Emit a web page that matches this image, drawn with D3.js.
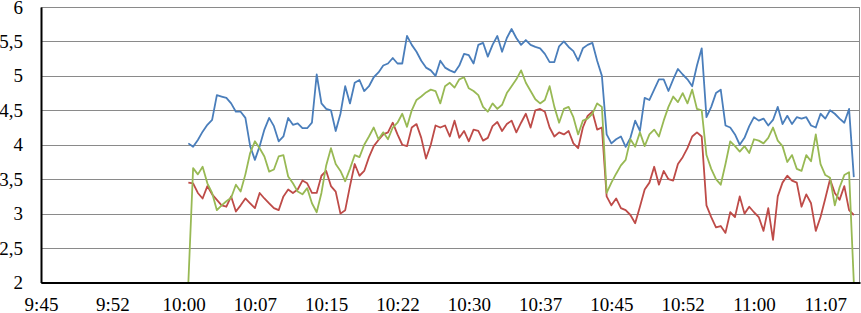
<!DOCTYPE html>
<html>
<head>
<meta charset="utf-8">
<script src="https://cdn.jsdelivr.net/npm/d3@7"></script>
<style>
  body { margin: 0; background: #fff; }
  .axis text { font-family: "Liberation Serif", serif; font-size: 19px; fill: #000; }
</style>
</head>
<body>
<div id="chart"></div>
<script>
// Constants for the SVG
var width = 861,
  height = 313,
  margin = { top: 7, right: 1, bottom: 30.5, left: 41 };

// Data: one reading every 30 seconds, starting 10:00:30
var startTime = "10:00:30";
var stepSeconds = 30;

var blueValues = [
  4.02, 3.97, 4.07, 4.19, 4.29, 4.36, 4.72, 4.70, 4.68, 4.60,
  4.48, 4.48, 4.39, 3.98, 3.78, 3.98, 4.22, 4.39, 4.27, 4.05,
  4.12, 4.39, 4.29, 4.31, 4.24, 4.24, 4.32, 5.02, 4.60, 4.52,
  4.50, 4.20, 4.45, 4.85, 4.60, 4.90, 4.94, 4.78, 4.85, 4.98,
  5.05, 5.15, 5.18, 5.26, 5.18, 5.18, 5.58, 5.45, 5.35, 5.22,
  5.12, 5.08, 5.00, 5.22, 5.12, 5.08, 5.05, 5.15, 5.32, 5.30,
  5.18, 5.45, 5.48, 5.28, 5.45, 5.58, 5.35, 5.55, 5.68, 5.55,
  5.45, 5.52, 5.45, 5.42, 5.40, 5.32, 5.20, 5.20, 5.43, 5.50,
  5.42, 5.36, 5.22, 5.40, 5.45, 5.48, 5.22, 5.00, 4.15, 4.02,
  4.08, 4.12, 3.97, 4.10, 4.35, 4.20, 4.68, 4.65, 4.80, 4.95,
  4.95, 4.78, 4.95, 5.10, 5.02, 4.95, 4.85, 5.15, 5.40, 4.40,
  4.55, 4.75, 4.80, 4.28, 4.25, 4.15, 4.00, 4.10, 4.27, 4.40,
  4.35, 4.38, 4.28, 4.36, 4.55, 4.30, 4.42, 4.30, 4.40, 4.38,
  4.40, 4.28, 4.25, 4.45, 4.38, 4.50, 4.45, 4.38, 4.32, 4.52,
  3.53
];

var redValues = [
  3.45, 3.44, 3.30, 3.22, 3.40, 3.28, 3.20, 3.12, 3.10, 3.25,
  3.03, 3.12, 3.22, 3.15, 3.08, 3.30, 3.22, 3.15, 3.08, 3.05,
  3.25, 3.35, 3.30, 3.35, 3.48, 3.44, 3.30, 3.30, 3.55, 3.62,
  3.40, 3.32, 3.00, 3.05, 3.40, 3.72, 3.55, 3.62, 3.82, 3.98,
  4.07, 4.15, 4.18, 4.32, 4.15, 4.00, 3.98, 4.25, 4.30, 4.10,
  3.80, 4.00, 4.28, 4.25, 4.28, 4.12, 4.35, 4.10, 4.20, 4.05,
  4.22, 4.20, 4.06, 4.10, 4.27, 4.33, 4.20, 4.30, 4.35, 4.18,
  4.32, 4.45, 4.25, 4.50, 4.52, 4.48, 4.25, 4.12, 4.18, 4.15,
  4.20, 4.02, 3.95, 4.25, 4.42, 4.48, 4.22, 4.25, 3.25, 3.12,
  3.22, 3.08, 3.05, 2.98, 2.86, 3.10, 3.35, 3.45, 3.68, 3.42,
  3.62, 3.50, 3.48, 3.72, 3.82, 3.95, 4.12, 4.18, 4.12, 3.12,
  2.95, 2.80, 2.82, 2.72, 3.02, 2.95, 3.25, 3.00, 3.10, 3.02,
  2.95, 2.75, 3.08, 2.62, 3.25, 3.45, 3.55, 3.48, 3.45, 3.10,
  3.28, 3.15, 2.75, 2.95, 3.22, 3.50, 3.30, 3.20, 3.40, 3.05,
  2.98
];

var greenValues = [
  2.00, 3.66, 3.57, 3.68, 3.44, 3.30, 3.05, 3.12, 3.18, 3.23,
  3.42, 3.32, 3.57, 3.88, 4.05, 3.95, 3.83, 3.61, 3.64, 3.83,
  3.85, 3.54, 3.44, 3.32, 3.28, 3.37, 3.15, 3.02, 3.30, 3.70,
  3.95, 3.72, 3.62, 3.47, 3.65, 3.85, 3.82, 4.00, 4.12, 4.25,
  4.08, 4.18, 4.08, 4.25, 4.32, 4.45, 4.26, 4.50, 4.65, 4.70,
  4.76, 4.80, 4.78, 4.60, 4.85, 4.90, 4.83, 4.95, 4.98, 4.82,
  4.78, 4.72, 4.55, 4.48, 4.60, 4.52, 4.58, 4.75, 4.85, 4.95,
  5.08, 4.90, 4.78, 4.66, 4.60, 4.65, 4.85, 4.55, 4.32, 4.52,
  4.55, 4.40, 4.15, 4.35, 4.38, 4.45, 4.60, 4.55, 3.30, 3.45,
  3.58, 3.70, 3.78, 4.08, 3.97, 4.18, 3.98, 4.15, 4.22, 4.12,
  4.35, 4.55, 4.70, 4.62, 4.75, 4.60, 4.80, 4.52, 4.50, 3.85,
  3.65, 3.50, 3.42, 3.72, 4.05, 3.98, 3.90, 3.98, 3.88, 4.08,
  4.06, 4.02, 4.10, 4.25, 4.06, 3.98, 3.75, 3.85, 3.65, 3.62,
  3.85, 3.76, 4.15, 3.72, 3.56, 3.52, 3.12, 3.38, 3.56, 3.60,
  2.00
];

// Axis ticks
var xStart = "9:45:00",
  xEnd = "11:11:09";
var xTickTimes = [
  "9:45:00", "9:52:30", "10:00:00", "10:07:30", "10:15:00", "10:22:30",
  "10:30:00", "10:37:30", "10:45:00", "10:52:30", "11:00:00", "11:07:30"
];
var yTicks = [2, 2.5, 3, 3.5, 4, 4.5, 5, 5.5, 6];

var parseTime = d3.timeParse("%H:%M:%S");
var fmtTime = d3.timeFormat("%-H:%M");
var fmtNum = d3.formatLocale({ decimal: ",", thousands: ".", grouping: [3], currency: ["", ""] }).format("~g");

var t0 = parseTime(startTime);
function toSeries(values) {
  return values.map(function (v, i) {
    return { t: new Date(t0.getTime() + i * stepSeconds * 1000), v: v };
  });
}

var series = [
  { name: "blue", color: "#4A7EBB", data: toSeries(blueValues) },
  { name: "red", color: "#BE4B48", data: toSeries(redValues) },
  { name: "green", color: "#98B954", data: toSeries(greenValues) }
];

var innerW = width - margin.left - margin.right,
  innerH = height - margin.top - margin.bottom;

var x = d3.scaleTime()
  .domain([parseTime(xStart), parseTime(xEnd)])
  .range([0, innerW]);

var y = d3.scaleLinear().domain([2, 6]).range([innerH, 0]);

var svg = d3.select("#chart")
  .append("svg")
  .attr("width", width)
  .attr("height", height);

var g = svg.append("g")
  .attr("transform", "translate(" + margin.left + "," + margin.top + ")");

// Gridlines
g.append("g")
  .selectAll("line")
  .data(yTicks)
  .enter()
  .append("line")
  .attr("x1", 0)
  .attr("x2", innerW)
  .attr("y1", function (d) { return Math.round(y(d)) + 0.5; })
  .attr("y2", function (d) { return Math.round(y(d)) + 0.5; })
  .attr("stroke", "#8a8a8a")
  .attr("stroke-width", 1);

// Right border of the plot
g.append("line")
  .attr("x1", innerW - 0.5).attr("x2", innerW - 0.5)
  .attr("y1", 0).attr("y2", innerH)
  .attr("stroke", "#8a8a8a");

g.append("clipPath").attr("id", "clip")
  .append("rect").attr("width", innerW).attr("height", innerH + 1);

var line = d3.line()
  .x(function (d) { return x(d.t); })
  .y(function (d) { return y(d.v); });

g.append("g")
  .attr("clip-path", "url(#clip)")
  .selectAll("path")
  .data(series)
  .enter()
  .append("path")
  .attr("fill", "none")
  .attr("stroke", function (d) { return d.color; })
  .attr("stroke-width", 1.8)
  .attr("stroke-linejoin", "round")
  .attr("d", function (d) { return line(d.data); });

// Axes
var xAxis = d3.axisBottom(x)
  .tickValues(xTickTimes.map(parseTime))
  .tickFormat(fmtTime)
  .tickSize(0)
  .tickPadding(15);

var yAxis = d3.axisLeft(y)
  .tickValues(yTicks)
  .tickFormat(fmtNum)
  .tickSize(0)
  .tickPadding(18);

var gx = g.append("g")
  .attr("class", "axis")
  .attr("transform", "translate(0," + innerH + ")")
  .call(xAxis);
var gy = g.append("g").attr("class", "axis").call(yAxis);

[gx, gy].forEach(function (a) {
  a.select(".domain").attr("stroke", "#000").attr("stroke-width", 2);
});
</script>
</body>
</html>
